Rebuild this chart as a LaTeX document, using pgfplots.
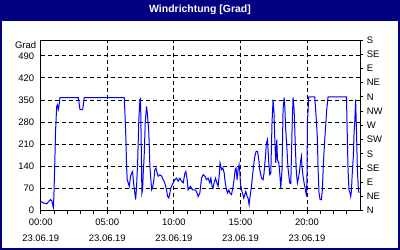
\documentclass[border=0pt]{standalone}
\usepackage{pgfplots}
\pgfplotsset{compat=1.18}
\usepackage{fontspec}
\setmainfont{Liberation Sans}
\definecolor{navy}{HTML}{000080}
\definecolor{lineblue}{HTML}{0000FF}
\begin{document}
\begin{tikzpicture}
\path[use as bounding box] (0bp,0bp) rectangle (400bp,250bp);
\fill[white] (0bp,0bp) rectangle (400bp,250bp);
\fill[navy] (0bp,229bp) rectangle (400bp,250bp);
\draw[navy, line width=2bp] (1bp,1bp) rectangle (399bp,249bp);
\node[anchor=base, text=white, font=\fontsize{10.5}{12}\selectfont\bfseries, inner sep=0pt] at (200bp,237.7bp) {Windrichtung [Grad]};
\node[anchor=base east, font=\fontsize{9.5}{11}\selectfont, inner sep=0pt] at (36.3bp,201.7bp) {Grad};
\begin{axis}[
  at={(40.7bp,39.3bp)}, anchor=south west,
  scale only axis, width=319.6bp, height=170.7bp,
  xmin=0, xmax=24, ymin=0, ymax=540,
  xtick={0,5,10,15,20},
  xticklabels={{00:00\\23.06.19},{05:00\\23.06.19},{10:00\\23.06.19},{15:00\\23.06.19},{20:00\\23.06.19}},
  minor xtick={1,2,3,4,6,7,8,9,11,12,13,14,16,17,18,19,21,22,23},
  ytick={0,70,...,490},
  /pgf/number format/assume math mode=true,
  xtick pos=lower, ytick pos=left,
  tick align=outside,
  major tick length=3bp, minor tick length=3bp,
  ytick style={draw=none},
  xtick style={black, line width=1bp},
  minor tick style={black, line width=1bp},
  xmajorgrids, ymajorgrids,
  major grid style={black, line width=1bp, dash pattern=on 4bp off 3bp},
  axis line style={black, line width=1bp},
  xticklabel style={align=center, font=\fontsize{9.5}{16}\selectfont, yshift=-1.5bp},
  yticklabel style={font=\fontsize{9.5}{11}\selectfont},
  clip=true,
]
\addplot[lineblue, line width=1bp, mark=none] coordinates {
(0,30)(0.17,25)(0.45,22)(0.62,30)(0.74,35)(0.85,30)(0.92,14)(0.96,9)(1.00,61)(1.07,172)(1.11,246)(1.20,330)(1.26,335)(1.32,320)(1.37,330)(1.45,358)
(2.82,358)(2.90,335)(2.95,320)(3.15,320)(3.20,335)(3.27,358)
(6.27,358)(6.32,315)(6.40,225)(6.45,140)(6.50,98)(6.57,88)(6.65,77)(6.75,109)(6.83,119)(6.90,124)(6.95,98)(7.02,72)(7.13,35)(7.20,77)(7.28,151)(7.37,288)(7.45,351)(7.50,354)(7.60,56)(7.65,66)(7.70,119)(7.77,172)(7.85,278)(7.95,330)(8.03,298)(8.12,246)(8.20,140)(8.33,66)(8.40,72)(8.50,98)(8.57,130)(8.65,135)(8.75,119)(8.82,109)(8.95,114)
(9.08,109)(9.20,98)(9.32,88)(9.45,66)(9.53,45)(9.62,40)(9.70,56)(9.77,72)(9.87,82)(9.95,88)(10.07,98)(10.20,103)(10.32,93)(10.45,103)(10.58,93)(10.70,88)(10.83,119)(10.90,124)(11.00,98)(11.07,66)(11.15,72)(11.25,77)(11.40,66)(11.57,66)(11.70,61)(11.82,45)(11.95,56)
(12.08,103)(12.20,114)(12.33,109)(12.45,98)(12.57,103)(12.70,88)(12.78,103)(12.87,77)(12.95,72)(13.02,88)(13.13,103)(13.23,88)(13.32,77)(13.40,109)(13.47,151)(13.58,130)(13.68,135)(13.78,119)(13.83,98)(13.95,66)(14.03,56)(14.13,66)(14.20,56)(14.33,51)(14.45,77)(14.52,98)(14.60,130)(14.67,135)(14.75,98)(14.82,130)(14.90,146)(14.95,124)
(15.00,88)(15.08,66)(15.15,56)(15.25,40)(15.33,51)(15.40,61)(15.50,45)(15.57,40)(15.65,19)(15.72,45)(15.83,77)(15.90,109)(15.98,140)(16.08,172)(16.18,188)(16.28,188)(16.38,161)(16.45,130)(16.58,103)(16.70,98)(16.77,119)(16.88,172)(16.95,214)(17.03,225)(17.13,151)(17.20,114)(17.28,119)(17.37,278)(17.45,351)(17.52,309)(17.58,225)(17.65,151)(17.73,225)(17.78,161)(17.88,151)(17.95,119)(18.03,72)(18.12,130)(18.20,320)(18.28,358)
(18.33,330)(18.40,256)(18.48,204)(18.57,135)(18.70,88)(18.78,86)(18.83,172)(18.88,267)(18.95,358)(19.03,320)(19.08,256)(19.13,193)(19.20,119)(19.28,88)(19.38,109)(19.45,130)(19.53,161)(19.58,172)(19.62,140)(19.70,109)(19.78,88)(19.88,66)(19.96,45)(20.00,119)(20.03,278)(20.08,320)(20.13,360)
(20.58,360)(20.63,330)(20.71,278)(20.78,225)(20.83,130)(20.90,56)(20.98,35)(21.08,35)(21.15,66)(21.23,151)(21.33,225)(21.40,267)(21.48,320)(21.58,360)
(22.96,360)(23.03,225)(23.08,130)(23.15,66)(23.23,56)(23.28,45)(23.33,61)(23.41,130)(23.48,172)(23.53,246)(23.58,278)(23.65,351)(23.73,225)(23.78,130)(23.86,66)(23.90,56)
};
\end{axis}
\begin{axis}[
  at={(40.7bp,39.3bp)}, anchor=south west,
  scale only axis, width=319.6bp, height=170.7bp,
  xmin=0, xmax=24, ymin=0, ymax=540,
  axis x line=none, axis y line*=right,
  ytick={0,45,...,540},
  yticklabels={N,NE,E,SE,S,SW,W,NW,N,NE,E,SE,S},
  tick align=outside, major tick length=3bp,
  ytick style={black, line width=1bp},
  axis line style={black, line width=1bp},
  yticklabel style={font=\fontsize{9.5}{11}\selectfont},
]
\end{axis}
\end{tikzpicture}
\end{document}
